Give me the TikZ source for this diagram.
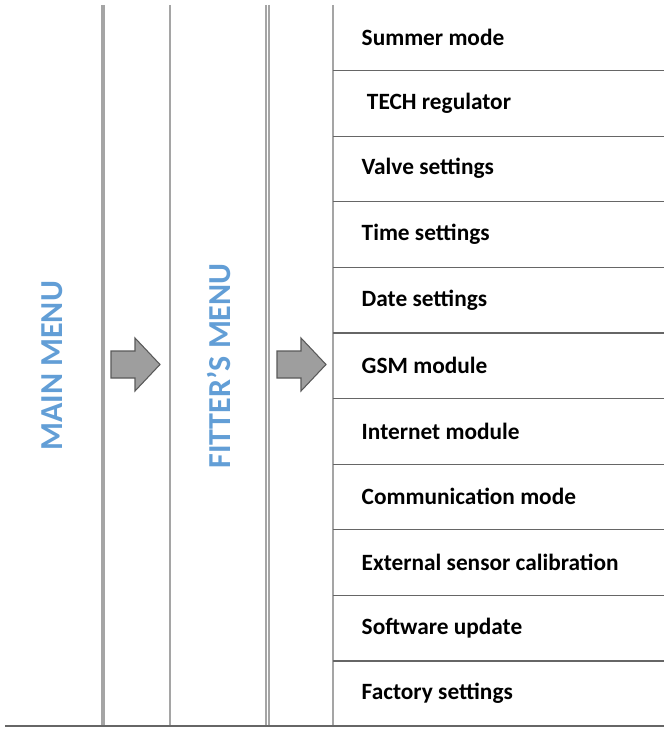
\documentclass[tikz,border=0pt]{standalone}
\usepackage{fontspec}
\setmainfont{Carlito}
\definecolor{menublue}{RGB}{98,158,214}
\definecolor{rulegray}{RGB}{165,165,165}
\begin{document}
\begin{tikzpicture}[x=0.75pt, y=-0.75pt,
    item/.style={anchor=west, font=\bfseries\fontsize{17.5}{20}\selectfont},
    menutitle/.style={rotate=90, text=menublue, font=\bfseries\fontsize{24}{28}\selectfont},
    goarrow/.style={draw=black!65, fill=black!38, line width=0.8pt, line join=miter}]
  \useasboundingbox (0,0) rectangle (664,735);
  % columns
  \draw[rulegray, line width=3pt] (103,5) -- (103,726);
  \draw[rulegray, line width=1.3pt] (170,5) -- (170,726);
  \draw[rulegray, line width=1.3pt] (266,5) -- (266,726);
  \draw[rulegray, line width=1.3pt] (269,5) -- (269,726);
  \draw[rulegray, line width=1.3pt] (333,5) -- (333,726);
  \draw[black!60, line width=1.3pt] (5,726) -- (664,726);
  % rows
  \foreach \r in {1,...,10}
    \draw[black!60, line width=1pt] (333,5+65.6*\r) -- (664,5+65.6*\r);
  % items
  \foreach \t [count=\i from 0] in {Summer mode, \ TECH regulator, Valve settings,
      Time settings, Date settings, GSM module, Internet module,
      Communication mode, External sensor calibration, Software update,
      Factory settings}
    \node[item] (item\i) at (357,37.5+65.6*\i) {\t};
  % titles
  \node[menutitle] (mainmenu) at (52,366) {MAIN MENU};
  \node[menutitle] (fittermenu) at (219,366) {FITTER'S MENU};
  % arrows
  \foreach \x in {111,277}
    \draw[goarrow] (\x,351) -- (\x+24,351) -- (\x+24,338) -- (\x+49,364.5)
      -- (\x+24,391) -- (\x+24,378) -- (\x,378) -- cycle;
\end{tikzpicture}
\end{document}
